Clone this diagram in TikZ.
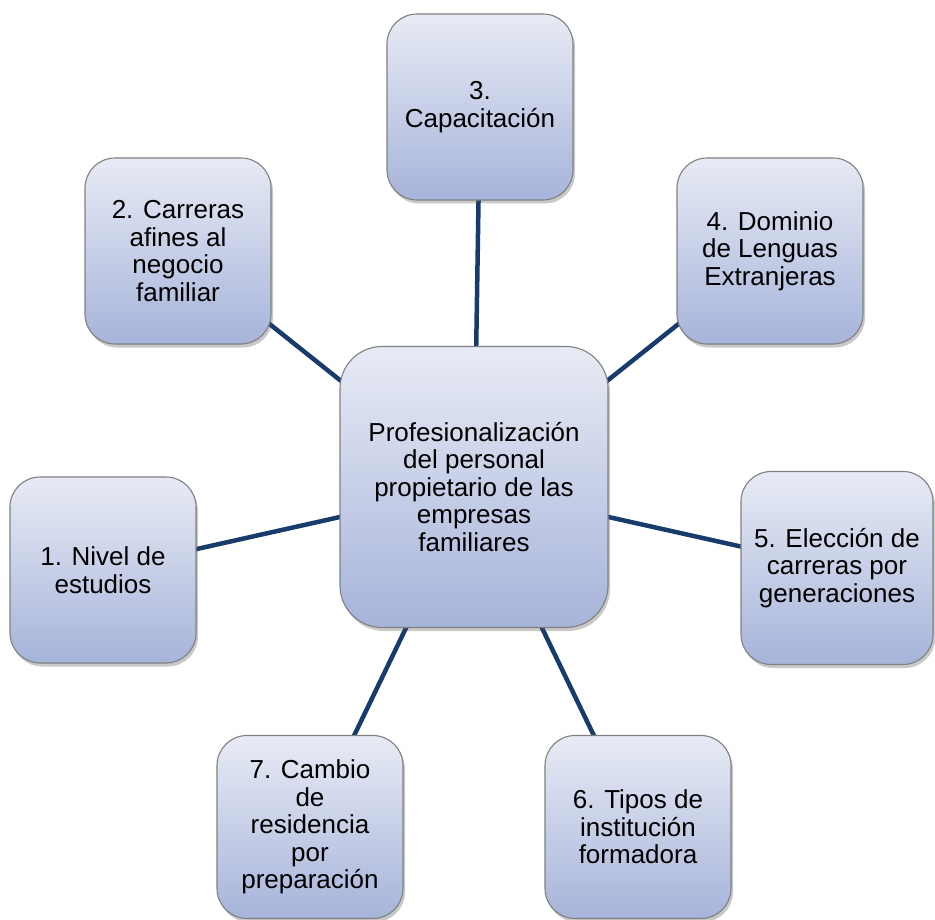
\documentclass[tikz,border=0pt]{standalone}
\usepackage{fontspec}
\setmainfont{Liberation Sans}
\usetikzlibrary{shadows}
\definecolor{topc}{RGB}{232,235,245}
\definecolor{botc}{RGB}{166,180,218}
\definecolor{edgec}{RGB}{128,128,128}
\definecolor{linkc}{RGB}{23,59,107}
\pgfdeclarelayer{background}
\pgfsetlayers{background,main}
\begin{document}
\begin{tikzpicture}[x=1pt,y=-1pt,
  boxbase/.style={rectangle, draw=edgec, line width=1.1pt,
    top color=topc, bottom color=botc, align=center, inner sep=0pt,
    font=\fontsize{26}{27.5}\selectfont,
    drop shadow={opacity=0.3, fill=black!70, shadow xshift=2pt, shadow yshift=-3.5pt}},
  smallbox/.style={boxbase, rounded corners=30pt, minimum width=186pt, minimum height=186pt},
  bigbox/.style={boxbase, rounded corners=42pt, minimum width=268pt, minimum height=281pt},
  link/.style={draw=linkc, line width=4.5pt}
]
\useasboundingbox (0,0) rectangle (935,920);

\node[bigbox] (c) at (474,487) {Profesionalización\\del personal\\propietario de las\\empresas\\familiares};
\node[smallbox] (n3) at (480,107) {3.\\Capacitación};
\node[smallbox] (n2) at (178,251) {2. Carreras\\afines al\\negocio\\familiar};
\node[smallbox] (n4) at (770,251) {4. Dominio\\de Lenguas\\Extranjeras};
\node[smallbox] (n1) at (103,570) {1. Nivel de\\estudios};
\node[smallbox, minimum width=192pt, minimum height=193pt] (n5) at (837,568) {5. Elección de\\carreras por\\generaciones};
\node[smallbox, minimum height=183pt] (n6) at (638,827) {6. Tipos de\\institución\\formadora};
\node[smallbox, minimum height=183pt] (n7) at (310,827) {7. Cambio\\de\\residencia\\por\\preparación};

\begin{pgfonlayer}{background}
  \foreach \n in {n1,n2,n3,n4,n5,n6,n7}
    \draw[link] (c.center) -- (\n.center);
\end{pgfonlayer}
\end{tikzpicture}
\end{document}
